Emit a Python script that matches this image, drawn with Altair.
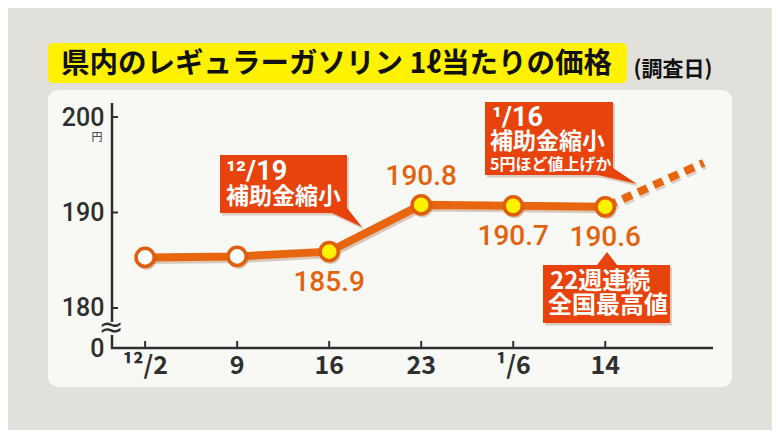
import altair as alt
import pandas as pd

# weekly survey dates (index 0..5) and prices
week_idx = [0, 1, 2, 3, 4, 5]
week_labels = ["¹²/2", "9", "16", "23", "¹/6", "14"]
prices = [185.3, 185.4, 185.9, 190.8, 190.7, 190.6]
point_fill = ["white", "white", "yellow", "yellow", "yellow", "yellow"]
value_text = ["", "", "185.9", "190.8", "190.7", "190.6"]
value_side = ["", "", "below", "above", "below", "below"]

# dotted outlook after 1/16
outlook_idx = [5, 6.07]
outlook_price = [190.6, 195.2]

y_tick_values = [180, 190, 200]
y_zero_pos = 175.81  # where "0" sits below the axis break

ORANGE = "#e8660f"
LABEL_ORANGE = "#e2630f"
RED = "#e8420d"
YELLOW = "#fff100"
PANEL = "#f8f8f4"
DARK = "#2f2f2f"
SHADOW = "#7a3306"
FONT = "Noto Sans CJK JP"
NUM = "Roboto"

df = pd.DataFrame({"idx": week_idx, "label": week_labels, "price": prices,
                   "fill": point_fill, "vtext": value_text, "side": value_side})
df_out = pd.DataFrame({"idx": outlook_idx, "price": outlook_price})
df_ticks = pd.DataFrame({"v": y_tick_values})

xs = alt.Scale(domain=[-0.36, 6.16], nice=False, zero=False)
ys = alt.Scale(domain=[y_zero_pos, 201.47], nice=False, zero=False)

one = pd.DataFrame({"a": [0]})
base1 = alt.Chart(one)

panel = base1.mark_rect(fill=PANEL, cornerRadius=10).encode(
    x=alt.value(-64), x2=alt.value(620), y=alt.value(-13), y2=alt.value(284))

title_box = base1.mark_rect(fill=YELLOW, cornerRadius=5).encode(
    x=alt.value(-64), x2=alt.value(515), y=alt.value(-60), y2=alt.value(-20))
title_txt = base1.mark_text(text="県内のレギュラーガソリン 1ℓ当たりの価格", align="left",
                            baseline="middle", font=FONT, fontSize=28.5, fontWeight="bold",
                            color="#111").encode(x=alt.value(-51), y=alt.value(-39))
sub_txt = base1.mark_text(text="(調査日)", align="center", baseline="middle", font=FONT,
                          fontSize=21, fontWeight="bold", color="#111").encode(
    x=alt.value(561), y=alt.value(-33))

base = alt.Chart(df)
enc = dict(x=alt.X("idx:Q", scale=xs), y=alt.Y("price:Q", scale=ys))

line = base.mark_line(color=ORANGE, strokeWidth=8).encode(
    x=alt.X("idx:Q", scale=xs,
            axis=alt.Axis(title=None, labels=False, ticks=False, grid=False, domain=False)),
    y=alt.Y("price:Q", scale=ys,
            axis=alt.Axis(title=None, values=[y_zero_pos] + y_tick_values, ticks=False,
                          grid=False, domain=False, zindex=1,
                          labelExpr="datum.value < 178 ? '0' : datum.label",
                          labelFont=NUM, labelFontSize=25, labelFontWeight=500,
                          labelColor=DARK, labelPadding=8, labelOverlap=False,
                          labelBound=False)))
line_shadow = base.mark_line(color=SHADOW, strokeWidth=8, opacity=0.25,
                             xOffset=1.5, yOffset=2.5).encode(**enc)

outlook = alt.Chart(df_out).mark_line(color=ORANGE, strokeWidth=8, strokeDash=[10, 7],
                                      strokeDashOffset=-2).encode(**enc)
outlook_shadow = alt.Chart(df_out).mark_line(color=SHADOW, strokeWidth=8, opacity=0.2,
                                             strokeDash=[10, 7], strokeDashOffset=-2,
                                             xOffset=1.5, yOffset=2.5).encode(**enc)

points_shadow = base.mark_point(filled=True, size=400, color=SHADOW, opacity=0.25,
                                xOffset=1.5, yOffset=2.5).encode(**enc)
points = base.mark_point(filled=True, size=330, stroke="#de5e0c", strokeWidth=3.5,
                         opacity=1).encode(
    fill=alt.Fill("fill:N", scale=alt.Scale(domain=["white", "yellow"],
                                             range=["#ffffff", YELLOW]), legend=None),
    **enc)

lab_below = base.transform_filter("datum.side == 'below'").mark_text(
    font=NUM, fontSize=28, fontWeight=500, color=LABEL_ORANGE, baseline="middle",
    dy=31).encode(text="vtext:N", **enc)
lab_above = base.transform_filter("datum.side == 'above'").mark_text(
    font=NUM, fontSize=28, fontWeight=500, color=LABEL_ORANGE, baseline="middle",
    dy=-28).encode(text="vtext:N", **enc)

# axis lines drawn by hand so the y axis can carry a break
y_axis_top = base1.mark_rule(color=DARK, strokeWidth=2.5).encode(
    x=alt.value(0), y=alt.value(0), y2=alt.value(219))
y_axis_low = base1.mark_rule(color=DARK, strokeWidth=2.5).encode(
    x=alt.value(0), y=alt.value(232), y2=alt.value(246))
x_axis = base1.mark_rule(color=DARK, strokeWidth=2.5).encode(
    x=alt.value(-1), x2=alt.value(601), y=alt.value(245))

x_ticks = base.mark_rule(color=DARK, strokeWidth=2).encode(
    x=alt.X("idx:Q", scale=xs), y=alt.value(245), y2=alt.value(238))
x_labels = base.mark_text(font=FONT, fontSize=25, fontWeight="bold", color=DARK,
                          baseline="middle").encode(
    x=alt.X("idx:Q", scale=xs), y=alt.value(263), text="label:N")

y_ticks = alt.Chart(df_ticks).mark_rule(color=DARK, strokeWidth=2).encode(
    y=alt.Y("v:Q", scale=ys), x=alt.value(0), x2=alt.value(6))

yen = base1.mark_text(text="円", font=FONT, fontSize=11, color=DARK, baseline="middle").encode(
    x=alt.value(-15), y=alt.value(35))
wave = base1.mark_text(text="≈", font="DejaVu Sans", fontSize=30, color=DARK,
                       baseline="middle").encode(x=alt.value(-1), y=alt.value(225))


def callout(px, py, path):
    shade = base1.mark_point(shape=path, size=4, filled=True, fill=SHADOW, opacity=0.22,
                             strokeWidth=0, xOffset=2, yOffset=2.5).encode(
        x=alt.value(px), y=alt.value(py))
    body = base1.mark_point(shape=path, size=4, filled=True, fill=RED, opacity=1,
                            strokeWidth=0).encode(x=alt.value(px), y=alt.value(py))
    return shade + body


def note(txt, px, py, size=24, font=FONT):
    return base1.mark_text(text=txt, align="left", baseline="middle", font=font,
                           fontSize=size, fontWeight="bold", color="white").encode(
        x=alt.value(px), y=alt.value(py))


box1 = callout(108, 52, "M0,0 H127 V53 L142,72 L112,58 H0 Z")
box2 = callout(373, -1, "M0,0 H128 V66 L152,82 L113,73 H0 Z")
box3 = callout(431, 162, "M0,0 H54 L64,-13 L74,0 H127 V58 H0 Z")

notes = [
    note("¹²/19", 114, 69, 27, NUM), note("補助金縮小", 114, 94, 23),
    note("¹/16", 380, 15, 27, NUM), note("補助金縮小", 378, 39, 23),
    note("5円ほど値上げか", 378, 62, 16),
    note("22週連続", 438, 179, 24), note("全国最高値", 436, 203, 24),
]

chart = alt.layer(
    panel, title_box, title_txt, sub_txt,
    y_axis_top, y_axis_low, x_axis, x_ticks, y_ticks, wave, yen, x_labels,
    outlook_shadow, line_shadow, outlook, line, points_shadow, points,
    lab_below, lab_above,
    box1, box2, box3, *notes,
).properties(
    width=600, height=245,
    autosize=alt.AutoSizeParams(type="none"),
    padding={"left": 104, "top": 95, "right": 60, "bottom": 82},
    background="#e1e0db",
).configure_view(stroke=None)

chart.save("out.html", embed_options={"renderer": "svg", "actions": False})
